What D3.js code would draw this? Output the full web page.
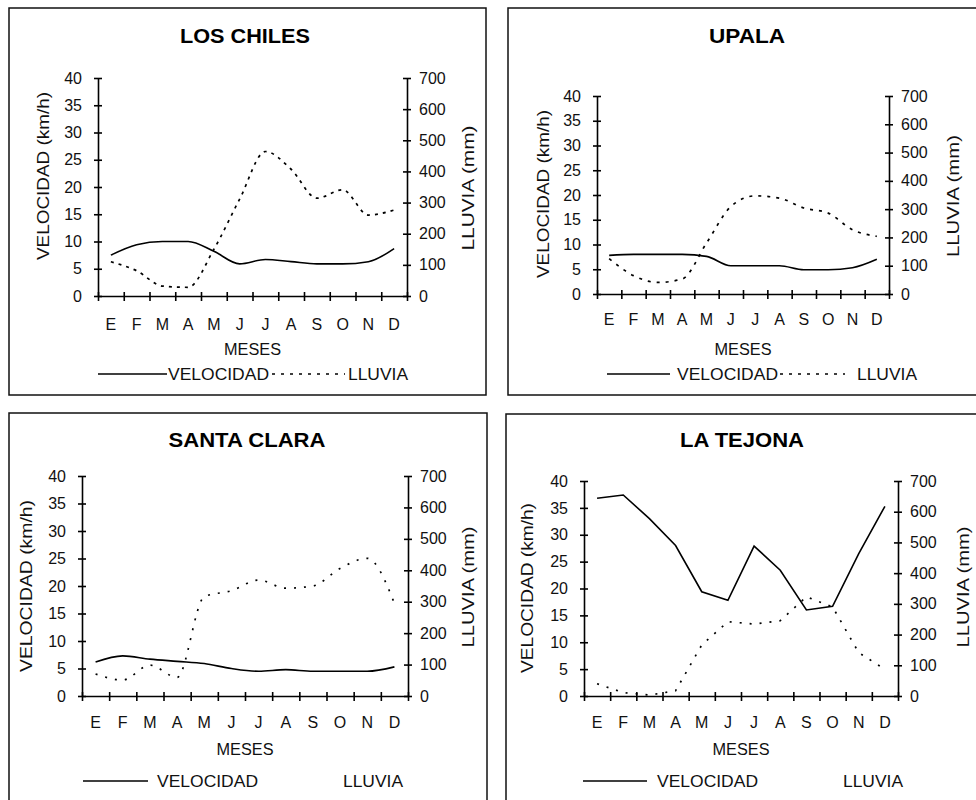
<!DOCTYPE html>
<html>
<head>
<meta charset="utf-8">
<script src="https://cdn.jsdelivr.net/npm/d3@7"></script>
<style>
body { margin: 0; background: #fff; }
svg { display: block; font-family: "Liberation Sans", Arial, sans-serif; }
</style>
</head>
<body>
<script>
// month initials (E = enero ... D = diciembre)
var months = ["E", "F", "M", "A", "M", "J", "J", "A", "S", "O", "N", "D"];
var velTicks = [0, 5, 10, 15, 20, 25, 30, 35, 40];
var rainTicks = [0, 100, 200, 300, 400, 500, 600, 700];
var titles = ["LOS CHILES", "UPALA", "SANTA CLARA", "LA TEJONA"];
var seriesNames = ["VELOCIDAD", "LLUVIA"];

// velocidad (km/h) and lluvia (mm) per station
var velLosChiles   = [7.5, 9.4, 10, 10, 8.2, 5.9, 6.7, 6.3, 5.9, 5.9, 6.3, 8.7];
var rainLosChiles  = [110, 81, 32, 28, 150, 311, 464, 407, 314, 341, 260, 276];
var velUpala       = [7.8, 8, 8, 8, 7.6, 5.7, 5.7, 5.7, 4.9, 4.9, 5.3, 7];
var rainUpala      = [125, 65, 41, 53, 180, 309, 347, 339, 304, 286, 227, 204];
var velSantaClara  = [6.2, 7.3, 6.7, 6.3, 5.9, 5.0, 4.5, 4.8, 4.5, 4.5, 4.5, 5.3];
var rainSantaClara = [70, 51, 98, 59, 316, 335, 369, 343, 350, 406, 438, 295];
var velLaTejona    = [36.8, 37.4, 33, 28, 19.4, 17.8, 27.9, 23.4, 16, 16.7, 26.5, 35.3];
var rainLaTejona   = [40, 11, 3, 17, 166, 242, 234, 245, 323, 290, 141, 87];

// where each panel sits on the page
var layouts = [
  {box: [9, 8, 486, 395], l: 98, r: 407, t: 78, b: 296, tx: 245, ty: 43, tLen: 130,
   yl: [43, 176, 168], rl: [468, 188, 125], monthY: 330, mesesY: 355,
   leg: {y: 380, x0: 98, x1: 167, vx: 168, d0: 272, d1: 345, rx: 348}, dash: "3,5", smooth: true},
  {box: [508, 8, 990, 395], l: 597, r: 889, t: 96, b: 294, tx: 747, ty: 43, tLen: 76,
   yl: [543, 194, 168], rl: [953, 196, 122], monthY: 325, mesesY: 355,
   leg: {y: 380, x0: 607, x1: 670, vx: 677, d0: 780, d1: 845, rx: 857}, dash: "3,6", smooth: true},
  {box: [9, 413, 487, 820], l: 82, r: 408, t: 476, b: 696, tx: 247, ty: 447, tLen: 157,
   yl: [26, 586, 172], rl: [468, 587, 121], monthY: 728, mesesY: 755,
   leg: {y: 787, x0: 83, x1: 148, vx: 157, d0: null, d1: null, rx: 343}, dash: "2,8", smooth: true},
  {box: [506, 414, 990, 820], l: 584, r: 898, t: 481, b: 696, tx: 742, ty: 447, tLen: 124,
   yl: [527, 588, 170], rl: [963, 587, 121], monthY: 728, mesesY: 755,
   leg: {y: 787, x0: 583, x1: 647, vx: 657, d0: null, d1: null, rx: 843}, dash: "2,8", smooth: false}
];

var velData = [velLosChiles, velUpala, velSantaClara, velLaTejona];
var rainData = [rainLosChiles, rainUpala, rainSantaClara, rainLaTejona];

var svg = d3.select("body").append("svg")
  .attr("width", 976)
  .attr("height", 800);

function drawPanel(p, title, vel, rain) {
  var g = svg.append("g");
  var fs = 16;

  g.append("rect")
    .attr("x", p.box[0]).attr("y", p.box[1])
    .attr("width", p.box[2] - p.box[0]).attr("height", p.box[3] - p.box[1])
    .attr("fill", "none").attr("stroke", "#111").attr("stroke-width", 1.5);

  g.append("text")
    .attr("x", p.tx).attr("y", p.ty)
    .attr("text-anchor", "middle")
    .attr("font-size", 20).attr("font-weight", "bold")
    .attr("textLength", p.tLen).attr("lengthAdjust", "spacingAndGlyphs")
    .text(title);

  var x = d3.scaleLinear().domain([0, 12]).range([p.l, p.r]);
  var yVel = d3.scaleLinear().domain([0, 40]).range([p.b, p.t]);
  var yRain = d3.scaleLinear().domain([0, 700]).range([p.b, p.t]);

  var left = g.append("g")
    .attr("transform", "translate(" + p.l + ",0)")
    .call(d3.axisLeft(yVel).tickValues(velTicks).tickSizeOuter(0));
  left.selectAll(".tick line").attr("x1", -4).attr("x2", 4);
  left.selectAll(".tick text").attr("x", -16);

  var right = g.append("g")
    .attr("transform", "translate(" + p.r + ",0)")
    .call(d3.axisRight(yRain).tickValues(rainTicks).tickSizeOuter(0));
  right.selectAll(".tick line").attr("x1", -4).attr("x2", 4);
  right.selectAll(".tick text").attr("x", 12);

  var bottom = g.append("g")
    .attr("transform", "translate(0," + p.b + ")")
    .call(d3.axisBottom(x).tickValues(d3.range(13)).tickFormat("").tickSizeOuter(0));
  bottom.selectAll(".tick line").attr("y1", -4).attr("y2", 5);

  g.selectAll(".domain, .tick line").attr("stroke", "#000").attr("stroke-width", 1.6);
  g.selectAll(".tick text").attr("font-size", fs).attr("fill", "#111")
    .attr("font-family", "Liberation Sans, Arial, sans-serif");

  g.selectAll("text.month")
    .data(months)
    .enter()
      .append("text")
      .attr("class", "month")
      .attr("x", function(d, i){ return x(i + 0.5); })
      .attr("y", p.monthY)
      .attr("text-anchor", "middle")
      .attr("font-size", fs)
      .attr("fill", "#111")
      .text(function(d){ return d; });

  g.append("text")
    .attr("x", (p.l + p.r) / 2).attr("y", p.mesesY)
    .attr("text-anchor", "middle").attr("font-size", fs).attr("fill", "#111")
    .attr("textLength", 57).attr("lengthAdjust", "spacingAndGlyphs")
    .text("MESES");

  g.append("text")
    .attr("transform", "translate(" + p.yl[0] + "," + p.yl[1] + ") rotate(-90)")
    .attr("text-anchor", "middle").attr("dominant-baseline", "central")
    .attr("font-size", fs).attr("fill", "#111")
    .attr("textLength", p.yl[2]).attr("lengthAdjust", "spacingAndGlyphs")
    .text("VELOCIDAD (km/h)");

  g.append("text")
    .attr("transform", "translate(" + p.rl[0] + "," + p.rl[1] + ") rotate(-90)")
    .attr("text-anchor", "middle").attr("dominant-baseline", "central")
    .attr("font-size", fs).attr("fill", "#111")
    .attr("textLength", p.rl[2]).attr("lengthAdjust", "spacingAndGlyphs")
    .text("LLUVIA  (mm)");

  var curve = p.smooth ? d3.curveMonotoneX : d3.curveLinear;

  var velLine = d3.line()
    .x(function(d, i){ return x(i + 0.5); })
    .y(function(d){ return yVel(d); })
    .curve(curve);

  var rainLine = d3.line()
    .x(function(d, i){ return x(i + 0.5); })
    .y(function(d){ return yRain(d); })
    .curve(curve);

  g.append("path")
    .attr("d", rainLine(rain))
    .attr("fill", "none").attr("stroke", "#000")
    .attr("stroke-width", 1.7).attr("stroke-dasharray", p.dash);

  g.append("path")
    .attr("d", velLine(vel))
    .attr("fill", "none").attr("stroke", "#000").attr("stroke-width", 1.6);

  // legend
  var lg = p.leg;
  g.append("line")
    .attr("x1", lg.x0).attr("x2", lg.x1).attr("y1", lg.y - 6).attr("y2", lg.y - 6)
    .attr("stroke", "#000").attr("stroke-width", 1.6);
  g.append("text")
    .attr("x", lg.vx).attr("y", lg.y).attr("font-size", fs).attr("fill", "#111")
    .attr("textLength", 101).attr("lengthAdjust", "spacingAndGlyphs")
    .text(seriesNames[0]);
  if (lg.d0 != null) {
    g.append("line")
      .attr("x1", lg.d0).attr("x2", lg.d1).attr("y1", lg.y - 6).attr("y2", lg.y - 6)
      .attr("stroke", "#000").attr("stroke-width", 1.6).attr("stroke-dasharray", "3,6");
  }
  g.append("text")
    .attr("x", lg.rx).attr("y", lg.y).attr("font-size", fs).attr("fill", "#111")
    .attr("textLength", 60).attr("lengthAdjust", "spacingAndGlyphs")
    .text(seriesNames[1]);
}

for (var i = 0; i < 4; i++) {
  drawPanel(layouts[i], titles[i], velData[i], rainData[i]);
}
</script>
</body>
</html>
